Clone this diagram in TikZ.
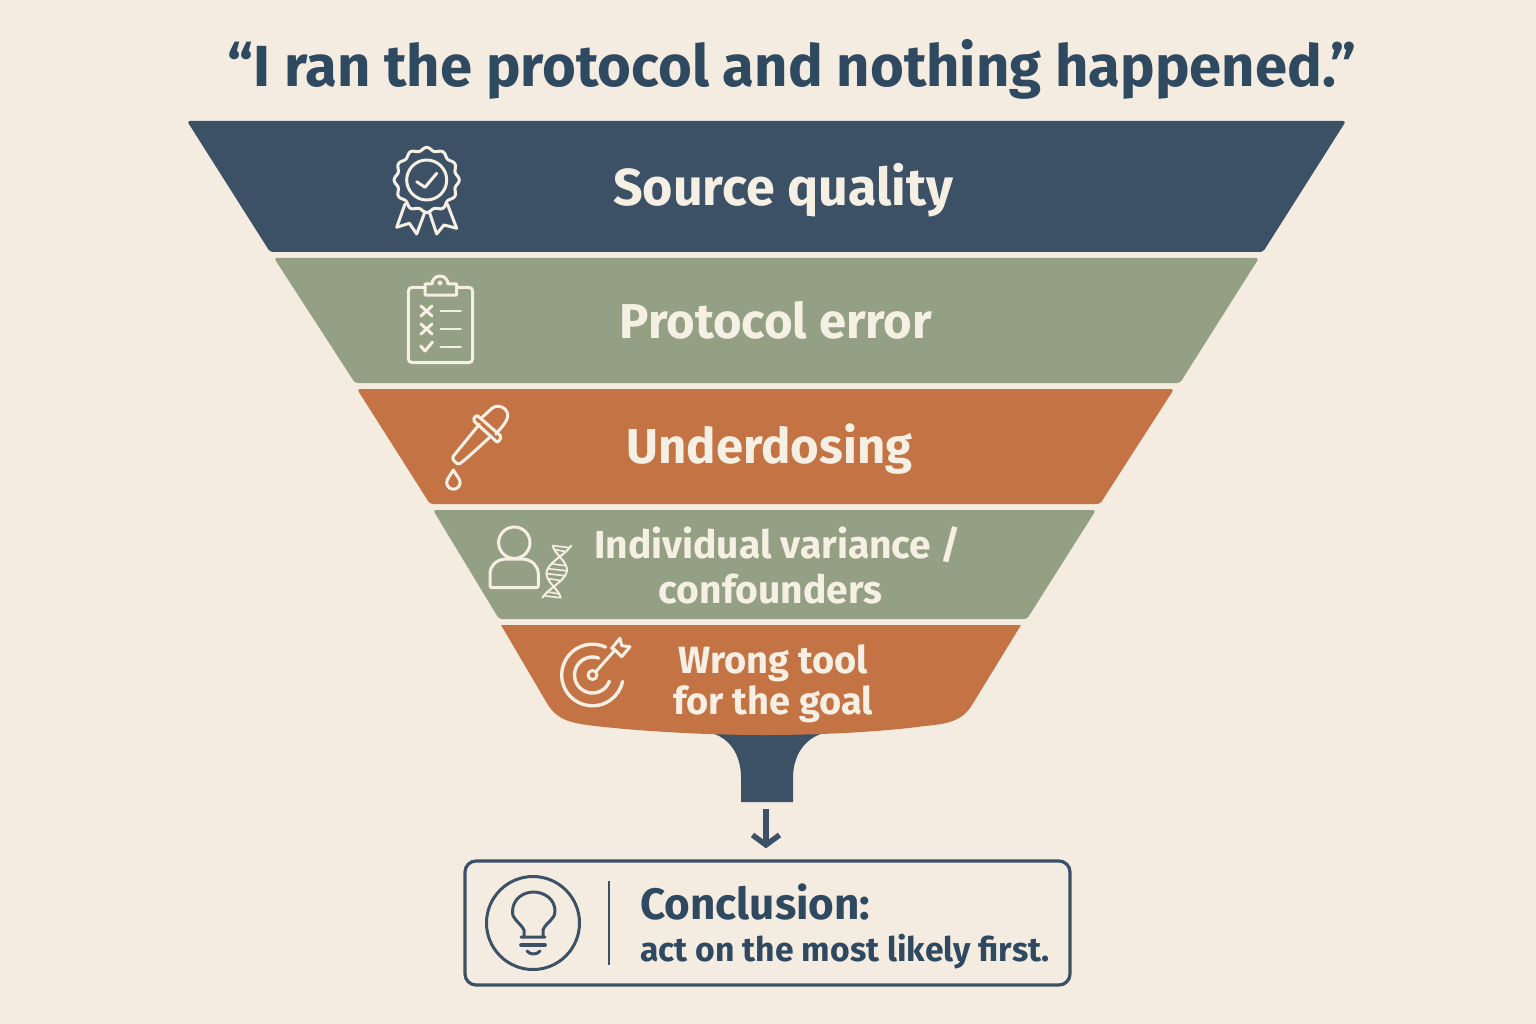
\documentclass[tikz,border=0pt]{standalone}
\usepackage{fontspec}
\setmainfont{Fira Sans}
\usetikzlibrary{arrows.meta}
\definecolor{paper}{HTML}{F4ECE0}
\definecolor{navy}{HTML}{3D5166}
\definecolor{inkblue}{HTML}{2F4A60}
\definecolor{sage}{HTML}{94A084}
\definecolor{clay}{HTML}{C47345}
\definecolor{cream}{HTML}{F6EFE3}
\tikzset{
  band/.style={rounded corners=3pt},
  icon/.style={draw=cream,line width=3pt,line cap=round,line join=round},
  darkicon/.style={draw=navy,line width=3pt,line cap=round,line join=round},
  bigtext/.style={text=cream,font=\fontsize{49}{54}\selectfont\bfseries},
  smalltext/.style={text=cream,font=\fontsize{39}{45}\selectfont\bfseries,align=center}
}
\begin{document}
\begin{tikzpicture}[x=1pt,y=1pt,yscale=-1]
\useasboundingbox (0,0) rectangle (1536,1024);
\fill[paper] (0,0) rectangle (1536,1024);

\node[text=inkblue,font=\fontsize{58}{64}\selectfont\bfseries] (title) at (792,69) {“I ran the protocol and nothing happened.”};

%% bands
\fill[navy,band] (187,121) -- (1346,121) -- (1263,252) -- (270,252) -- cycle;
\fill[sage,band] (274,258) -- (1259,258) -- (1180,383) -- (355,383) -- cycle;
\fill[clay,band] (357,389) -- (1174,389) -- (1100,504) -- (430,504) -- cycle;
\fill[sage,band] (433,510) -- (1096,510) -- (1027,619) -- (499,619) -- cycle;

%% stem
\fill[navy] (711,733) .. controls (730,738) and (741,755) .. (741,778) -- (741,802) -- (793,802) -- (793,778) .. controls (793,755) and (805,738) .. (824,733) -- cycle;
\fill[clay] (501,625) -- (1021,625) -- (972,705) .. controls (962,722) and (945,724) .. (925,726)
  .. controls (880,732) and (820,735) .. (766,735) .. controls (700,735) and (640,731) .. (595,726)
  .. controls (570,723) and (558,720) .. (548,705) -- cycle;

\node[bigtext,font=\fontsize{52}{54}\selectfont\bfseries] (source) at (783,190) {Source quality};
\node[bigtext] (protocol) at (776,320) {Protocol error};
\node[bigtext] (underdosing) at (769.5,449.5) {Underdosing};
\node[smalltext] (variance) at (770.5,565) {\hspace*{14pt}Individual variance /\\confounders};
\node[smalltext,font=\fontsize{38}{41}\selectfont\bfseries] (wrongtool) at (773,684) {Wrong tool\\for the goal};

%% badge
\draw[icon] plot[domain=0:360,samples=121,smooth] ({426.7+(31+1.6*cos(12*\x))*cos(\x)},{180+(31+1.6*cos(12*\x))*sin(\x)});
\draw[icon] (426.7,180) circle (20);
\draw[icon] (416.7,181.7) -- (425,187.3) -- (436.7,173.3);
\draw[icon] (405,204) -- (396.7,227.3) -- (409.3,223.3) -- (416.7,234) -- (425,211.7);
\draw[icon] (447.3,204) -- (456.7,228.3) -- (444,225) -- (436.7,234) -- (429.3,211.7);

%% clipboard
\draw[icon,rounded corners=4pt] (425,287.3) -- (408.3,287.3) -- (408.3,362.7) -- (472.7,362.7) -- (472.7,287.3) -- (456.7,287.3);
\draw[icon] (425,295) -- (425,284) -- (432,284) arc (180:360:8) -- (456.7,284) -- (456.7,295) -- cycle;
\draw[icon,line width=1.8pt] (440,283) circle (1.8);
\foreach \rowy in {311,329} {
  \draw[icon] (421,\rowy-5) -- (432,\rowy+5) (432,\rowy-5) -- (421,\rowy+5);
}
\draw[icon] (420.7,346) -- (425,351) -- (432.5,342);
\foreach \rowy in {311,329,346.7} {
  \draw[icon,line width=2.4pt] (440.7,\rowy) -- (460.7,\rowy);
}

%% dropper
\draw[icon,rounded corners=2pt] (472.7,420) -- (476.7,415) -- (501.7,436.7) -- (497.7,442.7) -- cycle;
\draw[icon] (481.7,417.7) -- (492.7,407.7) .. controls (500,403) and (510,410) .. (507.3,418.3) .. controls (506,423) and (500,429) .. (495.7,434.3);
\draw[icon,rounded corners=2pt] (479.3,424.3) -- (458.3,450) -- (451.7,458.3) -- (458.3,465) -- (467.3,457.7) -- (489.3,437.7);
\draw[icon] (453.3,470) .. controls (450,476) and (446.7,479) .. (446.7,482.5) arc (180:0:6.7) .. controls (460,479) and (456.7,476) .. (453.3,470) -- cycle;

%% person
\draw[icon] (514.3,542.7) circle (15.7);
\draw[icon,rounded corners=2pt] (490,587.7) -- (490,576) .. controls (490,566) and (496,560) .. (506,559) -- (522,559) .. controls (532,560) and (538.3,566) .. (538.3,576) -- (538.3,587.7) -- cycle;

%% dna
\draw[icon,line width=2pt] plot[domain=-26:26,samples=41,smooth] ({556.7-0.2*\x+10*cos(6*\x)},{571.7+\x});
\draw[icon,line width=2pt] plot[domain=-26:26,samples=41,smooth] ({556.7-0.2*\x-10*cos(6*\x)},{571.7+\x});
\foreach \rungy in {-25,-21,-7,-2,3,8,21,25} {
  \draw[icon,line width=1.6pt] ({556.7-0.2*\rungy-9*abs(cos(6*\rungy))},{571.7+\rungy-1}) -- ({556.7-0.2*\rungy+9*abs(cos(6*\rungy))},{571.7+\rungy+1});
}

%% target
\draw[icon,line width=3.4pt] (592.5,675) ++(-65:30.8) arc (-65:-348:30.8);
\draw[icon,line width=3.4pt] (592.5,675) ++(-70:18) arc (-70:-340:18);
\draw[icon] (592.5,675) circle (4.5);
\draw[icon] (596,671.5) -- (615,650);
\draw[icon] (611.7,648.3) -- (620,638.3) -- (621.7,645.7) -- (630,646.7) -- (621.7,656.7) -- (615,650) -- cycle;

%% conclusion
\coordinate (stemend) at (766,809);
\node[draw=navy,line width=3.2pt,rounded corners=11pt,minimum width=605pt,minimum height=124pt,inner sep=0pt] (conclusion) at (767.5,923) {};
\draw[navy,line width=5.5pt,-{Straight Barb[length=10pt,width=27pt]},shorten >=11pt] (stemend) -- (conclusion.north -| stemend);
\draw[darkicon] (533,923) circle (46.5);
\draw[navy,line width=2.6pt] (609,881) -- (609,965);
\draw[darkicon] (521,937) -- (545,937) (524,937) -- (524,930) .. controls (520,922) and (512,920) .. (512.5,911) .. controls (513,899) and (523,892) .. (533.5,892) .. controls (544,892) and (555,899) .. (555,911) .. controls (555,920) and (546,922) .. (543,930) -- (543,937);
\draw[darkicon,line width=3.6pt] (521,945) -- (545,945);
\draw[darkicon] (527,951) .. controls (530,955) and (537,955) .. (540,951);
\node[anchor=west,text=inkblue,align=left,inner sep=0pt,font=\fontsize{44}{44}\selectfont\bfseries] (concltext) at (640,926.5) {Conclusion:\\[-2pt]{\fontsize{33.7}{40}\selectfont act on the most likely first.}};
\end{tikzpicture}
\end{document}
